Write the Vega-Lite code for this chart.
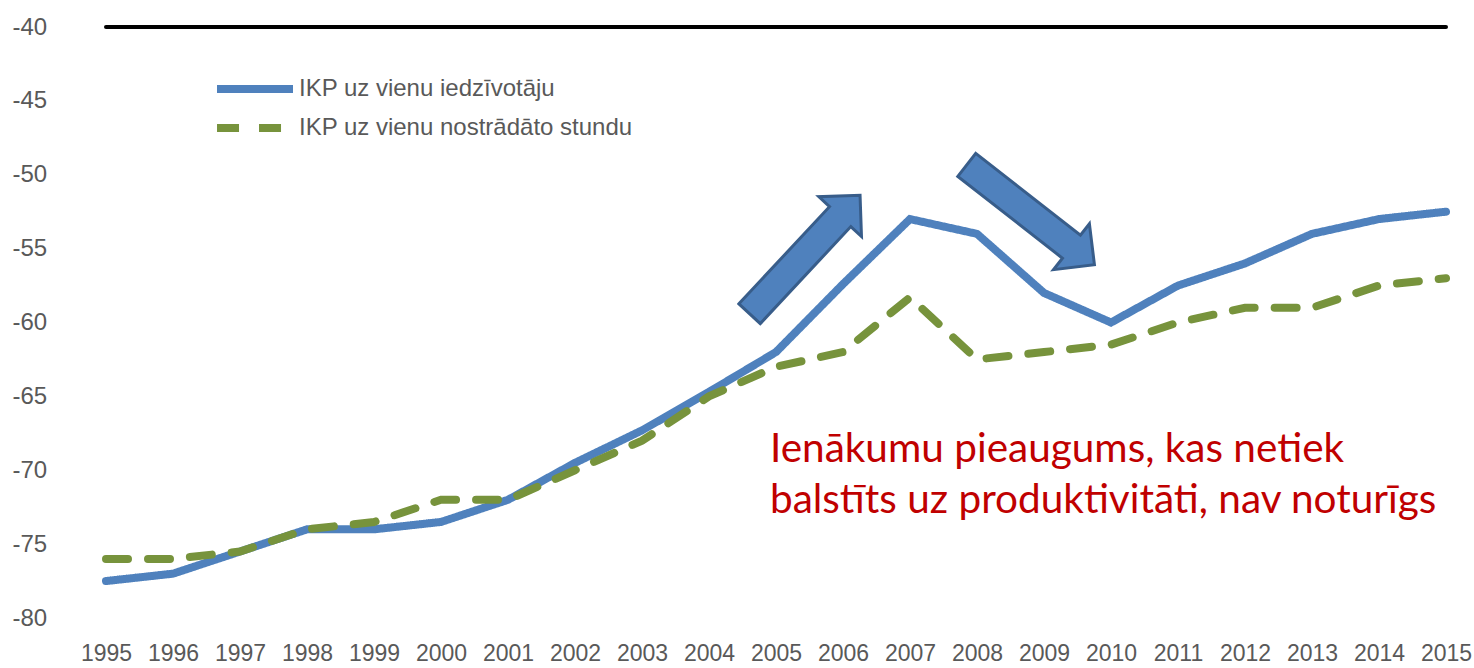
{
  "$schema": "https://vega.github.io/schema/vega-lite/v6.json",
  "width": 1340,
  "height": 591,
  "autosize": {"type": "none"},
  "padding": {"left": 106, "top": 27, "right": 28, "bottom": 50},
  "background": "white",
  "config": {
    "view": {"stroke": null},
    "font": "Liberation Sans"
  },
  "layer": [
    {
      "data": {"values": [{"value": -40}]},
      "mark": {"type": "rule", "color": "black", "strokeWidth": 4, "strokeCap": "round"},
      "encoding": {"y": {"field": "value", "type": "quantitative", "scale": {"domain": [-80, -40], "nice": false}}}
    },
    {
      "data": {"values": [
        {"year": 1995, "series": "IKP uz vienu iedzīvotāju", "value": -77.5},
        {"year": 1996, "series": "IKP uz vienu iedzīvotāju", "value": -77.0},
        {"year": 1997, "series": "IKP uz vienu iedzīvotāju", "value": -75.5},
        {"year": 1998, "series": "IKP uz vienu iedzīvotāju", "value": -74.0},
        {"year": 1999, "series": "IKP uz vienu iedzīvotāju", "value": -74.0},
        {"year": 2000, "series": "IKP uz vienu iedzīvotāju", "value": -73.5},
        {"year": 2001, "series": "IKP uz vienu iedzīvotāju", "value": -72.0},
        {"year": 2002, "series": "IKP uz vienu iedzīvotāju", "value": -69.5},
        {"year": 2003, "series": "IKP uz vienu iedzīvotāju", "value": -67.3},
        {"year": 2004, "series": "IKP uz vienu iedzīvotāju", "value": -64.7},
        {"year": 2005, "series": "IKP uz vienu iedzīvotāju", "value": -62.0},
        {"year": 2006, "series": "IKP uz vienu iedzīvotāju", "value": -57.4},
        {"year": 2007, "series": "IKP uz vienu iedzīvotāju", "value": -53.0},
        {"year": 2008, "series": "IKP uz vienu iedzīvotāju", "value": -54.0},
        {"year": 2009, "series": "IKP uz vienu iedzīvotāju", "value": -58.0},
        {"year": 2010, "series": "IKP uz vienu iedzīvotāju", "value": -60.0},
        {"year": 2011, "series": "IKP uz vienu iedzīvotāju", "value": -57.5},
        {"year": 2012, "series": "IKP uz vienu iedzīvotāju", "value": -56.0},
        {"year": 2013, "series": "IKP uz vienu iedzīvotāju", "value": -54.0},
        {"year": 2014, "series": "IKP uz vienu iedzīvotāju", "value": -53.0},
        {"year": 2015, "series": "IKP uz vienu iedzīvotāju", "value": -52.5},
        {"year": 1995, "series": "IKP uz vienu nostrādāto stundu", "value": -76.0},
        {"year": 1996, "series": "IKP uz vienu nostrādāto stundu", "value": -76.0},
        {"year": 1997, "series": "IKP uz vienu nostrādāto stundu", "value": -75.5},
        {"year": 1998, "series": "IKP uz vienu nostrādāto stundu", "value": -74.0},
        {"year": 1999, "series": "IKP uz vienu nostrādāto stundu", "value": -73.5},
        {"year": 2000, "series": "IKP uz vienu nostrādāto stundu", "value": -72.0},
        {"year": 2001, "series": "IKP uz vienu nostrādāto stundu", "value": -72.0},
        {"year": 2002, "series": "IKP uz vienu nostrādāto stundu", "value": -70.0},
        {"year": 2003, "series": "IKP uz vienu nostrādāto stundu", "value": -68.0},
        {"year": 2004, "series": "IKP uz vienu nostrādāto stundu", "value": -65.0},
        {"year": 2005, "series": "IKP uz vienu nostrādāto stundu", "value": -63.0},
        {"year": 2006, "series": "IKP uz vienu nostrādāto stundu", "value": -62.0},
        {"year": 2007, "series": "IKP uz vienu nostrādāto stundu", "value": -58.3},
        {"year": 2008, "series": "IKP uz vienu nostrādāto stundu", "value": -62.5},
        {"year": 2009, "series": "IKP uz vienu nostrādāto stundu", "value": -62.0},
        {"year": 2010, "series": "IKP uz vienu nostrādāto stundu", "value": -61.5},
        {"year": 2011, "series": "IKP uz vienu nostrādāto stundu", "value": -60.0},
        {"year": 2012, "series": "IKP uz vienu nostrādāto stundu", "value": -59.0},
        {"year": 2013, "series": "IKP uz vienu nostrādāto stundu", "value": -59.0},
        {"year": 2014, "series": "IKP uz vienu nostrādāto stundu", "value": -57.5},
        {"year": 2015, "series": "IKP uz vienu nostrādāto stundu", "value": -57.0}
      ]},
      "mark": {"type": "line", "strokeWidth": 8, "strokeCap": "round", "strokeJoin": "miter"},
      "encoding": {
        "x": {"field": "year", "type": "quantitative", "scale": {"domain": [1995, 2015], "nice": false, "zero": false},
          "axis": {"title": null, "values": [1995,1996,1997,1998,1999,2000,2001,2002,2003,2004,2005,2006,2007,2008,2009,2010,2011,2012,2013,2014,2015], "format": "d", "domain": false, "ticks": false, "grid": false, "labelFontSize": 23, "labelColor": "#595959", "labelPadding": 24, "labelFlush": false, "labelOverlap": false, "labelFont": "Liberation Sans"}},
        "y": {"field": "value", "type": "quantitative", "scale": {"domain": [-80, -40], "nice": false, "zero": false},
          "axis": {"title": null, "values": [-80,-75,-70,-65,-60,-55,-50,-45,-40], "labelExpr": "'-' + abs(datum.value)", "domain": false, "ticks": false, "grid": false, "labelFontSize": 24, "labelColor": "#595959", "labelAlign": "left", "labelPadding": 94, "labelFont": "Liberation Sans"}},
        "color": {"field": "series", "type": "nominal",
          "scale": {"domain": ["IKP uz vienu iedzīvotāju", "IKP uz vienu nostrādāto stundu"], "range": ["#4F81BD", "#77933C"]},
          "legend": {"title": null, "orient": "none", "legendX": 132, "legendY": 45, "symbolType": "M-3,0L3,0", "symbolSize": 641, "symbolStrokeWidth": 8, "labelFontSize": 24, "labelColor": "#595959", "labelFont": "Liberation Sans", "labelOffset": 27, "labelLimit": 0, "rowPadding": 6, "padding": 0}},
        "strokeDash": {"field": "series", "type": "nominal",
          "scale": {"domain": ["IKP uz vienu iedzīvotāju", "IKP uz vienu nostrādāto stundu"], "range": [[1, 0], [22, 20]]}}
      }
    },
    {
      "data": {"values": [{"year": 2005.43, "value": -55.4}]},
      "mark": {"type": "point", "shape": "M-1,-0.18L0.64,-0.18L0.64,-0.36L1,0L0.64,0.36L0.64,0.18L-1,0.18Z", "size": 26244, "angle": -47, "filled": true, "fill": "#4F81BD", "fillOpacity": 1, "stroke": "#385D8A", "strokeWidth": 3, "strokeJoin": "miter", "opacity": 1},
      "encoding": {"x": {"field": "year", "type": "quantitative"}, "y": {"field": "value", "type": "quantitative"}}
    },
    {
      "data": {"values": [{"year": 2008.8, "value": -52.71}]},
      "mark": {"type": "point", "shape": "M-1,-0.18L0.64,-0.18L0.64,-0.36L1,0L0.64,0.36L0.64,0.18L-1,0.18Z", "size": 26244, "angle": 38, "filled": true, "fill": "#4F81BD", "fillOpacity": 1, "stroke": "#385D8A", "strokeWidth": 3, "strokeJoin": "miter", "opacity": 1},
      "encoding": {"x": {"field": "year", "type": "quantitative"}, "y": {"field": "value", "type": "quantitative"}}
    },
    {
      "data": {"values": [
        {"year": 2004.91, "value": -69.43, "label": "Ienākumu pieaugums, kas netiek"},
        {"year": 2004.91, "value": -72.88, "label": "balstīts uz produktivitāti, nav noturīgs"}
      ]},
      "mark": {"type": "text", "align": "left", "baseline": "alphabetic", "font": "Lato", "fontSize": 40.5, "color": "#C00000"},
      "encoding": {"x": {"field": "year", "type": "quantitative"}, "y": {"field": "value", "type": "quantitative"}, "text": {"field": "label"}}
    }
  ]
}
